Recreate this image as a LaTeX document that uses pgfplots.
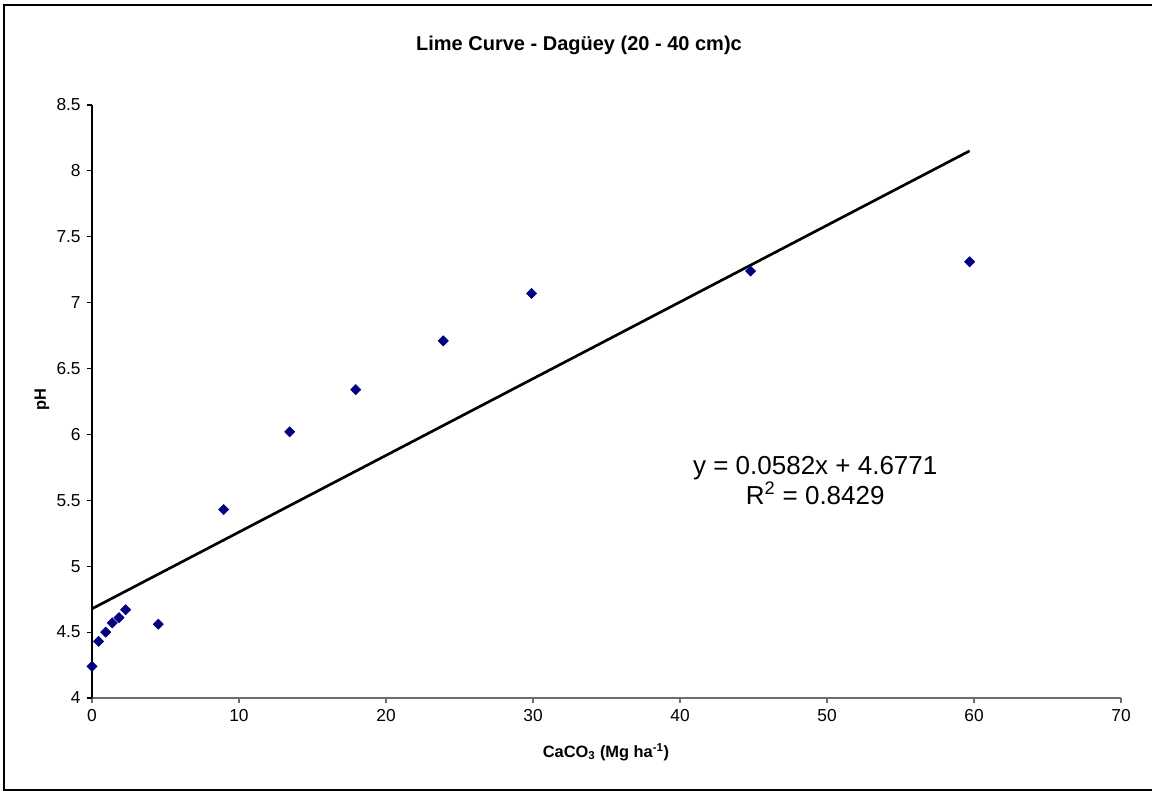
\documentclass[border=0pt]{standalone}
\usepackage{pgfplots}
\pgfplotsset{compat=1.18}
\usepackage{fontspec}
\setmainfont{Liberation Sans}
\definecolor{navymark}{RGB}{0,0,128}
\begin{document}
\begin{tikzpicture}
\begin{axis}[
  scale only axis,
  width=771.75pt, height=444.75pt,
  xmin=0, xmax=70, ymin=4, ymax=8.5,
  xtick={0,10,...,70},
  ytick={4,4.5,...,8.5},
  yticklabels={4,4.5,5,5.5,6,6.5,7,7.5,8,8.5},
  axis x line*=bottom, axis y line*=left,
  x axis line style={draw=gray!85!black, line width=0.9pt, -},
  y axis line style={draw=black, line width=0.9pt, -},
  tick style={black, line width=0.9pt},
  tick align=outside,
  major tick length=4pt,
  x tick style={gray!85!black},
  ticklabel style={font=\fontsize{13}{15}\selectfont},
  /pgf/number format/assume math mode=true,
  xticklabel style={yshift=-1pt},
  yticklabel style={xshift=-1pt},
  clip=false,
]
\addplot[only marks, mark=square*, mark size=2.7pt, color=navymark, mark options={rotate=45, fill=navymark, draw=navymark}] coordinates {
(0,4.24) (0.45,4.43) (0.93,4.50) (1.38,4.57) (1.84,4.61) (2.29,4.67)
(4.51,4.56) (8.96,5.43) (13.45,6.02) (17.94,6.34) (23.9,6.71)
(29.9,7.07) (44.8,7.24) (59.7,7.31)
};
\addplot[black, line width=2pt, no marks] coordinates {(0,4.6771) (59.7,8.1516)};
\node[align=center, font=\fontsize{19.5}{23}\selectfont] at (axis cs:49.2,5.65) {y = 0.0582x + 4.6771\\R\textsuperscript{2} = 0.8429};
\end{axis}
\begin{scope}[x=0.75pt, y=-0.75pt, shift={(-69pt,523.5pt)}]
\draw[black, line width=1pt] (1170,5) -- (4,5) -- (4,790) -- (1170,790);
\node[font=\bfseries\fontsize{15}{18}\selectfont] at (579,45) {Lime Curve - Dagüey (20 - 40 cm)c};
\node[font=\bfseries\fontsize{12.3}{14}\selectfont] at (606,752) {CaCO\textsubscript{3} (Mg ha\textsuperscript{-1})};
\node[font=\bfseries\fontsize{12.3}{14}\selectfont, rotate=90] at (42,400) {pH};
\pgfresetboundingbox
\path[use as bounding box] (0,0) rectangle (1152,793);
\end{scope}
\end{tikzpicture}
\end{document}
